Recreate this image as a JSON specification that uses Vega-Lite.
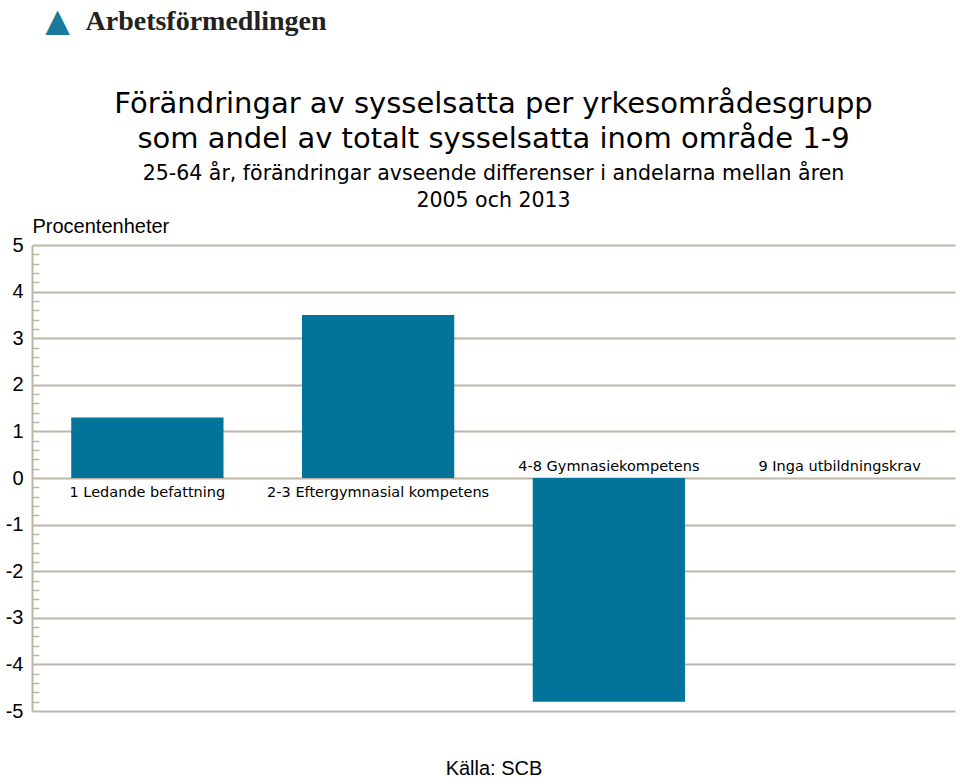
{
  "$schema": "https://vega.github.io/schema/vega-lite/v6.json",
  "width": 923,
  "height": 466,
  "autosize": {"type": "none"},
  "padding": {"left": 32, "top": 245, "right": 5, "bottom": 67},
  "background": "white",
  "config": {"font": "Liberation Sans", "view": {"stroke": null}},
  "title": {
    "text": ["Förändringar av sysselsatta per yrkesområdesgrupp", "som andel av totalt sysselsatta inom område 1-9"],
    "subtitle": ["25-64 år, förändringar avseende differenser i andelarna mellan åren", "2005 och 2013"],
    "font": "DejaVu Sans",
    "subtitleFont": "DejaVu Sans",
    "fontSize": 29,
    "fontWeight": "normal",
    "lineHeight": 35,
    "subtitleFontSize": 20.5,
    "subtitleLineHeight": 27,
    "subtitlePadding": 10,
    "color": "black",
    "subtitleColor": "black",
    "anchor": "middle",
    "frame": "group",
    "offset": 8,
    "dy": 215
  },
  "data": {
    "values": [
      {"grupp": "1 Ledande befattning", "varde": 1.3},
      {"grupp": "2-3 Eftergymnasial kompetens", "varde": 3.5},
      {"grupp": "4-8 Gymnasiekompetens", "varde": -4.8},
      {"grupp": "9 Inga utbildningskrav", "varde": 0.0}
    ]
  },
  "resolve": {"axis": {"x": "independent", "y": "independent"}},
  "layer": [
    {
      "mark": {"type": "bar", "color": "#02749a"},
      "encoding": {
        "x": {
          "field": "grupp", "type": "nominal", "sort": null,
          "scale": {"paddingInner": 0.34, "paddingOuter": 0.17},
          "axis": {"orient": "bottom", "labels": false, "ticks": false, "domain": false, "grid": false,
            "title": "Källa: SCB", "titleFontSize": 20, "titleFontWeight": "normal", "titleColor": "black", "titlePadding": 47}
        },
        "y": {
          "field": "varde", "type": "quantitative",
          "scale": {"domain": [-5, 5], "nice": false, "zero": false},
          "axis": {
            "orient": "left",
            "values": [-5, -4, -3, -2, -1, 0, 1, 2, 3, 4, 5],
            "labelExpr": "'' + datum.value",
            "grid": true, "gridColor": "#bdb5a8", "gridWidth": 2, "gridOpacity": 1,
            "domainColor": "#bdb5a8", "domainWidth": 2, "ticks": false,
            "labelFontSize": 20, "labelPadding": 9, "labelColor": "black", "labelFlush": false,
            "title": "Procentenheter", "titleAngle": 0, "titleX": 0, "titleY": -13,
            "titleAlign": "left", "titleBaseline": "alphabetic",
            "titleFontSize": 20, "titleFontWeight": "normal", "titleColor": "black"
          }
        }
      }
    },
    {
      "transform": [{"filter": "datum.varde > 0"}],
      "mark": {"type": "text", "font": "DejaVu Sans", "fontSize": 14.5, "dy": 15, "baseline": "middle", "color": "black"},
      "encoding": {
        "x": {
          "field": "grupp", "type": "nominal", "sort": null,
          "axis": {"orient": "top", "labels": false, "ticks": false, "domain": false, "grid": false,
            "title": "Arbetsförmedlingen", "titleFont": "Liberation Serif", "titleFontWeight": "bold",
            "titleFontSize": 28, "titleColor": "#222222", "titleX": 53, "titleY": -216,
            "titleAlign": "left", "titleBaseline": "alphabetic", "titleAnchor": "start"}
        },
        "y": {
          "datum": 0, "type": "quantitative",
          "axis": {
            "orient": "left",
            "values": [-4.8, -4.6, -4.4, -4.2, -3.8, -3.6, -3.4, -3.2, -2.8, -2.6, -2.4, -2.2, -1.8, -1.6, -1.4, -1.2, -0.8, -0.6, -0.4, -0.2, 0.2, 0.4, 0.6, 0.8, 1.2, 1.4, 1.6, 1.8, 2.2, 2.4, 2.6, 2.8, 3.2, 3.4, 3.6, 3.8, 4.2, 4.4, 4.6, 4.8],
            "labels": false, "domain": false, "grid": false,
            "tickSize": -7, "tickColor": "#bdb5a8", "tickWidth": 1.5,
            "title": "▲", "titleFont": "DejaVu Sans", "titleFontSize": 32, "titleColor": "#1a7a99",
            "titleAngle": 0, "titleX": 25, "titleY": -215, "titleAlign": "center", "titleBaseline": "alphabetic"
          }
        },
        "text": {"field": "grupp"}
      }
    },
    {
      "transform": [{"filter": "datum.varde <= 0"}],
      "mark": {"type": "text", "font": "DejaVu Sans", "fontSize": 14.5, "dy": -11, "baseline": "middle", "color": "black"},
      "encoding": {
        "x": {"field": "grupp", "type": "nominal", "sort": null, "axis": null},
        "y": {"datum": 0, "type": "quantitative", "axis": null},
        "text": {"field": "grupp"}
      }
    }
  ]
}
